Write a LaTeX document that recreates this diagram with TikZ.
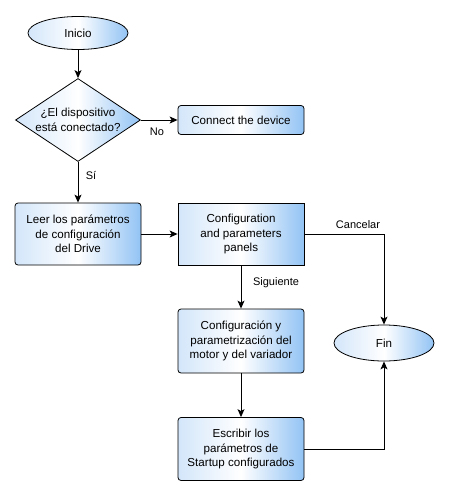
\documentclass[tikz,border=0pt]{standalone}
\usepackage{fontspec}
\setmainfont{Liberation Sans}
\usepackage{xcolor}
\usetikzlibrary{arrows.meta,shapes.geometric}

\definecolor{fillL}{HTML}{D3E6FA}
\definecolor{fillR}{HTML}{92C3F4}

\begin{document}
\begin{tikzpicture}[x=1pt, y=-1pt, >={Stealth[length=8pt,width=7pt,inset=2pt]},
    every node/.style={font=\fontsize{11.6}{14.5}\selectfont},
    shade box/.style={draw, line width=0.8pt, left color=fillL, right color=fillR, middle color=white, align=center, inner sep=0pt},
    procbox/.style={shade box, rectangle, rounded corners=3pt, minimum width=126pt},
    plainbox/.style={shade box, rectangle, minimum width=126pt},
    term/.style={shade box, ellipse, minimum width=100pt, minimum height=33pt},
    decide/.style={shade box, diamond, minimum width=125pt, minimum height=83pt, aspect=1.5},
    link/.style={draw, ->, line width=0.9pt},
    lbl/.style={font=\fontsize{11}{13}\selectfont}]
    \useasboundingbox (0,0) rectangle (449,496);

    \node[term] (inicio) at (78,33) {Inicio};
    \node[decide] (conectado) at (78,120) {¿El dispositivo\\está conectado?};
    \node[procbox, minimum height=29pt] (connect) at (241,120) {Connect the device};
    \node[procbox, minimum height=62pt] (leer) at (78,234) {Leer los parámetros\\de configuración\\del Drive};
    \node[plainbox, minimum height=62pt] (panels) at (241,234) {Configuration\\and parameters\\panels};
    \node[procbox, minimum height=64pt] (motor) at (241,341) {Configuración y\\parametrización del\\motor y del variador};
    \node[procbox, minimum height=63pt] (escribir) at (241,449) {Escribir los\\parámetros de\\Startup configurados};
    \node[term, minimum height=36pt] (fin) at (384,343) {Fin};

    \draw[link] (inicio) -- (conectado);
    \draw[link] (conectado) -- (connect);
    \node[lbl] (no) at (157,132) {No};
    \draw[link] (conectado) -- (leer);
    \node[lbl] (si) at (91,175) {Sí};
    \draw[link] (leer) -- (panels);
    \draw[link] (panels) -- (motor);
    \node[lbl] (sig) at (276,283) {Siguiente};
    \draw[link] (motor) -- (escribir);
    \draw[link] (panels.east) -| (fin.north);
    \node[lbl] (cancel) at (358,225) {Cancelar};
    \draw[link] (escribir.east) -| (fin.south);
\end{tikzpicture}
\end{document}
